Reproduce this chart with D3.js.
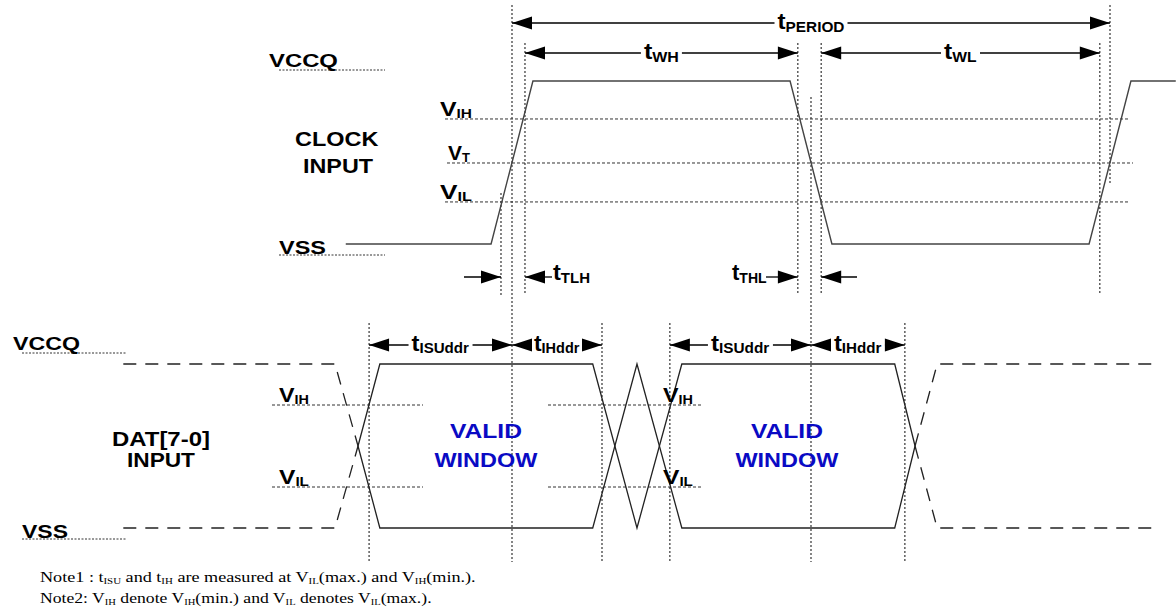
<!DOCTYPE html>
<html><head><meta charset="utf-8">
<script src="https://cdn.jsdelivr.net/npm/d3@7"></script>
<style>html,body{margin:0;padding:0;background:#fff;} svg{display:block;}</style>
</head><body>
<svg id="chart" width="1176" height="615"></svg>
<script>
// ---------------- DATA ----------------
// time axis: % of clock period (0 = rising-edge VT crossing, 100 = next one)
// level axis: fraction of swing, 0 = VSS, 1 = VCCQ
const clockTimes  = [-27.8, -3.5, 3.5, 46.5, 53.5, 96.5, 103.5, 111];
const clockLevels = [0, 0, 1, 1, 0, 0, 1, 1];
const clockThresholdNames  = ["IH", "T", "IL"];
const clockThresholdLevels = [0.767, 0.497, 0.258];

const dataThresholdNames  = ["IH", "IL"];
const dataThresholdLevels = [0.75, 0.25];

// valid-data eye (solid traces)
const validTimes       = [-25.75, -22.1, 13.5, 20.9, 28.4, 64.0, 67.4];
const validUpperLevels = [0.5, 1, 1, 0, 1, 1, 0.5];
const validLowerLevels = [0.5, 0, 0, 1, 0, 0, 0.5];
// don't-care data (dashed traces)
const prevTimes  = [-65.0, -29.6, -25.75];
const prevUpper  = [1, 1, 0.5];
const prevLower  = [0, 0, 0.5];
const nextTimes  = [67.4, 71.1, 107.0];
const nextUpper  = [0.5, 1, 1];
const nextLower  = [0.5, 0, 0];

// timing reference marks (dotted verticals)
const markerTimes = [-1.84, 0, 2.17, 47.8, 50, 51.7, 98.3, 100, -23.9, 15.05, 26.4, 65.7];

// timing parameters
const clockSpanNames  = ["PERIOD", "WH", "WL"];
const clockSpanStart  = [0, 2.17, 51.7];
const clockSpanEnd    = [100, 47.8, 98.3];
const transitionNames = ["TLH", "THL"];
const transitionStart = [-1.84, 47.8];
const transitionEnd   = [2.17, 51.7];
const dataSpanNames   = ["ISUddr", "IHddr", "ISUddr", "IHddr"];
const dataSpanStart   = [-23.9, 0, 26.4, 50];
const dataSpanEnd     = [0, 15.05, 50, 65.7];

const signalNames = [["CLOCK", "INPUT"], ["DAT[7-0]", "INPUT"]];
const railNames   = ["VCCQ", "VSS"];
const windowLabel = ["VALID", "WINDOW"];

// ---------------- LAYOUT ----------------
const svg = d3.select("#chart");
const x    = d3.scaleLinear().domain([0, 100]).range([512, 1110]);
const yClk = d3.scaleLinear().domain([0, 1]).range([244, 81]);
const yDat = d3.scaleLinear().domain([0, 1]).range([528, 364]);
const SANS = "'Liberation Sans', Arial, sans-serif";
const SERIF = "'Liberation Serif', 'Times New Roman', serif";
const DOT = "3,2";

function rich(g, parts, opt) {
  const t = g.append("text")
    .attr("font-family", opt.family || SANS)
    .attr("font-weight", opt.weight || "bold")
    .attr("fill", opt.fill || "#000");
  let prev = 0;
  parts.forEach(([s, size, shift]) => {
    shift = shift || 0;
    t.append("tspan").attr("font-size", size).attr("dy", shift - prev).text(s);
    prev = shift;
  });
  const w0 = t.node().getBBox().width;
  const w = opt.width || w0;
  const sx = w / w0;
  let x0 = opt.x;
  if (opt.anchor === "middle") x0 = opt.x - w / 2;
  t.attr("transform", `translate(${x0},${opt.y}) scale(${sx},1)`);
  return { left: x0, right: x0 + w };
}

function arrowHead(g, xTip, y, dir) { // dir: +1 points right, -1 points left
  const L = 20, H = 6.5;
  g.append("path")
    .attr("d", `M${xTip},${y} L${xTip - dir * L},${y - H} L${xTip - dir * L},${y + H} Z`)
    .attr("fill", "#000");
}

const gGrid = svg.append("g");
const gWave = svg.append("g");
const gAnn  = svg.append("g");

// ---- dotted timing markers
const markerTop    = [193, 5, 43, 43, 97, 43, 43, 5, 323, 323, 323, 323];
const markerBottom = [295, 562, 295, 295, 562, 295, 295, 185, 562, 562, 562, 562];
markerTimes.forEach((t, i) => {
  gGrid.append("line")
    .attr("x1", x(t)).attr("x2", x(t))
    .attr("y1", markerTop[i]).attr("y2", markerBottom[i])
    .attr("stroke", "#222").attr("stroke-width", 1.1).attr("stroke-dasharray", "2,2");
});

// ---- clock thresholds
const clkThX0 = [445, 447, 445], clkThX1 = [1130, 1133, 1130];
const clkLblX = [440, 448, 440], clkLblW = [32, 22, 32];
clockThresholdLevels.forEach((v, i) => {
  gGrid.append("line")
    .attr("x1", clkThX0[i]).attr("x2", clkThX1[i])
    .attr("y1", yClk(v)).attr("y2", yClk(v))
    .attr("stroke", "#333").attr("stroke-width", 1).attr("stroke-dasharray", DOT);
  rich(gAnn, [["V", 21], [clockThresholdNames[i], 13, 2]],
       { x: clkLblX[i], y: yClk(v) - 3, width: clkLblW[i] });
});

// ---- rail labels with dotted underlines
function rail(yScale, lx, lw, ux0, ux1) {
  rich(gAnn, [[railNames[0], 18]], { x: lx[0], y: yScale(1) - 14, width: lw[0] });
  rich(gAnn, [[railNames[1], 18]], { x: lx[1], y: yScale(0) + 10, width: lw[1] });
  [yScale(1) - 11, yScale(0) + 11].forEach(yy => {
    gGrid.append("line").attr("x1", ux0).attr("x2", ux1).attr("y1", yy).attr("y2", yy)
      .attr("stroke", "#333").attr("stroke-width", 1).attr("stroke-dasharray", "2,1.5");
  });
}
rail(yClk, [269, 279], [69, 47], 279, 385);
rail(yDat, [13, 22], [67, 46], 22, 127);

// ---- signal names
rich(gAnn, [[signalNames[0][0], 20]], { x: 337, y: 146, width: 84, anchor: "middle" });
rich(gAnn, [[signalNames[0][1], 20]], { x: 338, y: 173, width: 70, anchor: "middle" });
rich(gAnn, [[signalNames[1][0], 20]], { x: 161, y: 446, width: 98, anchor: "middle" });
rich(gAnn, [[signalNames[1][1], 20]], { x: 161, y: 467, width: 68, anchor: "middle" });

// ---- clock waveform
const clkLine = d3.line().x(d => x(d[0])).y(d => yClk(d[1]));
gWave.append("path").datum(d3.zip(clockTimes, clockLevels))
  .attr("d", clkLine).attr("fill", "none").attr("stroke", "#444").attr("stroke-width", 1.4);

// ---- data thresholds
const datThSegs = [[272, 423], [548, 701]];
const datLblX = [279, 663];
dataThresholdLevels.forEach((v, i) => {
  datThSegs.forEach((s, j) => {
    gGrid.append("line").attr("x1", s[0]).attr("x2", s[1])
      .attr("y1", yDat(v)).attr("y2", yDat(v))
      .attr("stroke", "#333").attr("stroke-width", 1).attr("stroke-dasharray", DOT);
    rich(gAnn, [["V", 21], [dataThresholdNames[i], 13, 2]],
         { x: datLblX[j], y: yDat(v) - 3, width: 30 });
  });
});

// ---- data waveform
const datLine = d3.line().x(d => x(d[0])).y(d => yDat(d[1]));
[validUpperLevels, validLowerLevels].forEach(lv => {
  gWave.append("path").datum(d3.zip(validTimes, lv)).attr("d", datLine)
    .attr("fill", "none").attr("stroke", "#222").attr("stroke-width", 1.3);
});
[[prevTimes, prevUpper], [prevTimes, prevLower], [nextTimes, nextUpper], [nextTimes, nextLower]]
  .forEach(([ts, lv]) => {
    gWave.append("path").datum(d3.zip(ts, lv)).attr("d", datLine)
      .attr("fill", "none").attr("stroke", "#222").attr("stroke-width", 1.3)
      .attr("stroke-dasharray", "13,9");
  });

// VALID WINDOW labels
[[13.5, -22.1], [64.0, 28.4]].forEach((pair, i) => {
  const cx = i === 0 ? 486 : 787;
  rich(gAnn, [[windowLabel[0], 20]], { x: cx, y: 438, width: 72, anchor: "middle", fill: "#0a0ac4" });
  rich(gAnn, [[windowLabel[1], 20]], { x: cx, y: 467, width: 103, anchor: "middle", fill: "#0a0ac4" });
});

// ---- dimension arrows with centred labels
function spanArrow(t0, t1, y, name, width, baseline, shift) {
  const a = x(t0), b = x(t1);
  const r = rich(gAnn, [["t", 22], [name, 14, shift]], { x: (a + b) / 2, y: baseline, width: width, anchor: "middle" });
  gAnn.append("line").attr("x1", a).attr("x2", r.left - 3).attr("y1", y).attr("y2", y)
    .attr("stroke", "#000").attr("stroke-width", 1.3);
  gAnn.append("line").attr("x1", r.right + 3).attr("x2", b).attr("y1", y).attr("y2", y)
    .attr("stroke", "#000").attr("stroke-width", 1.3);
  arrowHead(gAnn, a, y, -1);
  arrowHead(gAnn, b, y, 1);
}
const clockSpanW = [67, 35, 33];
const clockSpanY = [23, 53, 53];
clockSpanNames.forEach((n, i) =>
  spanArrow(clockSpanStart[i], clockSpanEnd[i], clockSpanY[i], n, clockSpanW[i], clockSpanY[i] + 6, 3));
const dataSpanW = [58, 46, 59, 48];
dataSpanNames.forEach((n, i) =>
  spanArrow(dataSpanStart[i], dataSpanEnd[i], 345, n, dataSpanW[i], 351, 2));

// ---- transition-time arrows (pointing inward from outside)
function inward(t0, t1, y, tail0, tail1) {
  const a = x(t0), b = x(t1);
  gAnn.append("line").attr("x1", tail0).attr("x2", a).attr("y1", y).attr("y2", y).attr("stroke", "#000").attr("stroke-width", 1.3);
  gAnn.append("line").attr("x1", b).attr("x2", tail1).attr("y1", y).attr("y2", y).attr("stroke", "#000").attr("stroke-width", 1.3);
  arrowHead(gAnn, a, y, 1);
  arrowHead(gAnn, b, y, -1);
}
inward(transitionStart[0], transitionEnd[0], 277, 464, 552);
rich(gAnn, [["t", 22], [transitionNames[0], 14, 3]], { x: 553, y: 280, width: 37 });
inward(transitionStart[1], transitionEnd[1], 277, 766, 857);
rich(gAnn, [["t", 22], [transitionNames[1], 14, 3]], { x: 732, y: 280, width: 35 });

// ---- notes
rich(gAnn, [["Note1 : t", 15], ["ISU", 9, 2], [" and t", 15], ["IH", 9, 2], [" are measured at V", 15],
            ["IL", 9, 2], ["(max.) and V", 15], ["IH", 9, 2], ["(min.).", 15]],
     { x: 40, y: 582, width: 436, family: SERIF, weight: "normal" });
rich(gAnn, [["Note2: V", 15], ["IH", 9, 2], [" denote V", 15], ["IH", 9, 2], ["(min.) and V", 15],
            ["IL", 9, 2], [" denotes V", 15], ["IL", 9, 2], ["(max.).", 15]],
     { x: 40, y: 603, width: 392, family: SERIF, weight: "normal" });
</script>
</body></html>
